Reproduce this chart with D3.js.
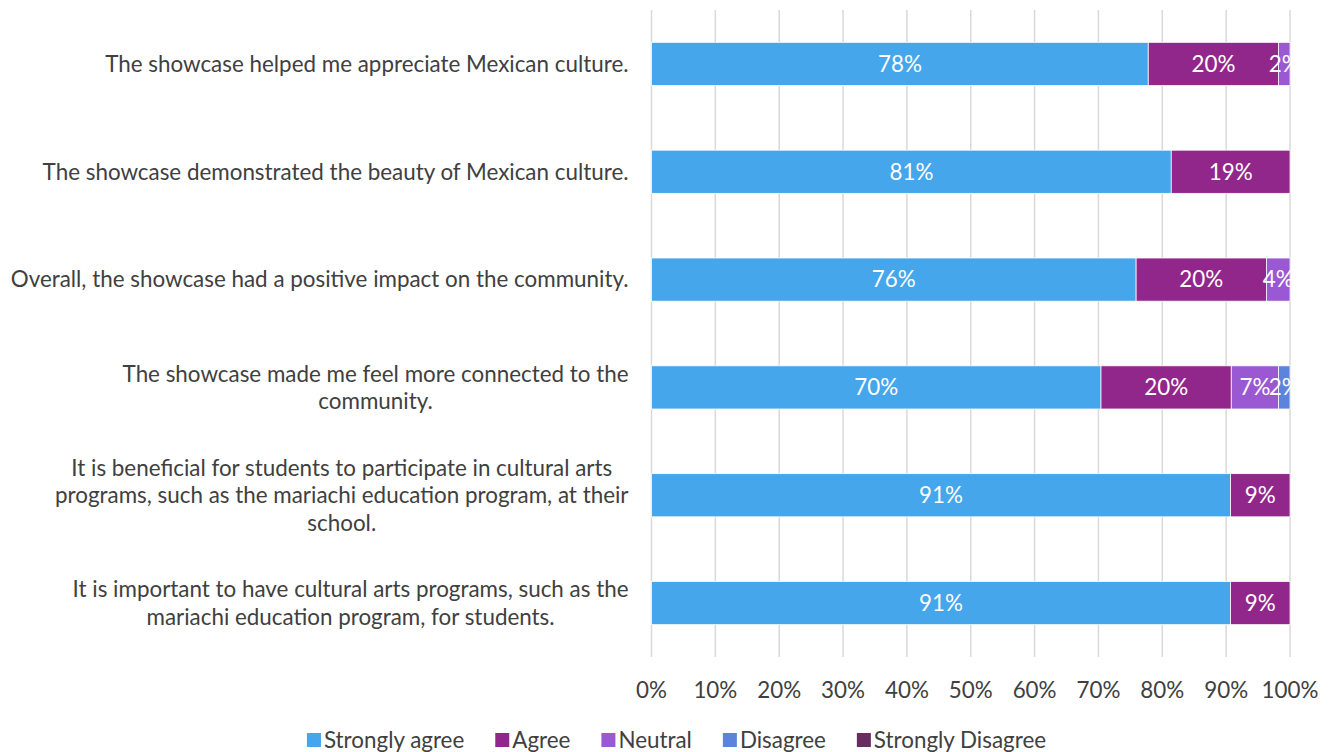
<!DOCTYPE html>
<html>
<head>
<meta charset="utf-8">
<script src="https://cdn.jsdelivr.net/npm/d3@7"></script>
<style>
  html, body { margin: 0; padding: 0; background: #fff; }
  svg { display: block; font-family: Lato, "Open Sans", sans-serif; }
</style>
</head>
<body>
<svg id="chart" width="1331" height="752"></svg>
<script>
// Survey statements (line breaks as they wrap on the axis)
const statements = [
  ["The showcase helped me appreciate Mexican culture."],
  ["The showcase demonstrated the beauty of Mexican culture."],
  ["Overall, the showcase had a positive impact on the community."],
  ["The showcase made me feel more connected to the", "community."],
  ["It is beneficial for students to participate in cultural arts", "programs, such as the mariachi education program, at their", "school."],
  ["It is important to have cultural arts programs, such as the", "mariachi education program, for students."]
];

// Response categories
const responses = ["Strongly agree", "Agree", "Neutral", "Disagree", "Strongly Disagree"];

// Share of respondents (%) per statement, one array per response
const stronglyAgree    = [77.8, 81.4, 75.9, 70.4, 90.7, 90.7];
const agree            = [20.4, 18.6, 20.4, 20.4, 9.3, 9.3];
const neutral          = [1.8, 0, 3.7, 7.4, 0, 0];
const disagree         = [0, 0, 0, 1.8, 0, 0];
const stronglyDisagree = [0, 0, 0, 0, 0, 0];

// Percent axis ticks
const ticks = [0, 10, 20, 30, 40, 50, 60, 70, 80, 90, 100];

const colors = ["#45a6eb", "#92278b", "#9b58d3", "#5b84da", "#682c60"];

const series = [stronglyAgree, agree, neutral, disagree, stronglyDisagree];
const rows = statements.map((s, i) => {
  const r = { key: i, lines: s };
  responses.forEach((k, j) => { r[k] = series[j][i]; });
  return r;
});

const svg = d3.select("#chart");
const margin = { left: 651.5, right: 41, top: 10, bottom: 95 };
const W = 1331, H = 752;

const x = d3.scaleLinear().domain([0, 100]).range([margin.left, W - margin.right]);
const y = d3.scaleBand().domain(rows.map(d => d.key))
  .range([margin.top, H - margin.bottom])
  .paddingInner(0.6).paddingOuter(0.3);

const textColor = "#404040";
const fontSize = 22.4;

// Vertical gridlines
svg.append("g")
  .selectAll("line").data(ticks).join("line")
  .attr("x1", d => x(d)).attr("x2", d => x(d))
  .attr("y1", margin.top).attr("y2", H - margin.bottom)
  .attr("stroke", "#d9d9d9").attr("stroke-width", 1.5);

// Stacked bars
const stacked = d3.stack().keys(responses)(rows);
const layers = svg.append("g").selectAll("g").data(stacked).join("g")
  .attr("fill", (d, i) => colors[i]);

layers.selectAll("rect").data(d => d.filter(s => s[1] - s[0] > 0)).join("rect")
  .attr("x", d => x(d[0]))
  .attr("y", d => y(d.data.key))
  .attr("width", d => x(d[1]) - x(d[0]))
  .attr("height", y.bandwidth())
  .attr("stroke", "#ffffff").attr("stroke-width", 0.75);

// Data labels
const fmt = v => d3.format(".0f")(v) + "%";
layers.selectAll("text").data(d => d.filter(s => s[1] - s[0] > 0).map(s => ({ s, v: s[1] - s[0] }))).join("text")
  .attr("x", d => x((d.s[0] + d.s[1]) / 2))
  .attr("y", d => y(d.s.data.key) + y.bandwidth() / 2)
  .attr("dy", "0.35em")
  .attr("text-anchor", "middle")
  .attr("fill", "#ffffff")
  .attr("font-size", fontSize)
  .text(d => fmt(d.v));

// Category labels: block right-aligned to the axis, lines centred within it
const lineH = 27.5;
const catG = svg.append("g");
rows.forEach(r => {
  const g = catG.append("g");
  const cy = y(r.key) + y.bandwidth() / 2;
  const n = r.lines.length;
  const texts = r.lines.map((ln, i) => g.append("text")
    .attr("y", cy + (i - (n - 1) / 2) * lineH)
    .attr("dy", "0.35em")
    .attr("font-size", fontSize)
    .attr("fill", textColor)
    .attr("text-anchor", "middle")
    .text(ln));
  const wMax = d3.max(texts, t => t.node().getComputedTextLength());
  const right = margin.left - 23;
  texts.forEach(t => t.attr("x", right - wMax / 2));
});

// X axis tick labels
svg.append("g").selectAll("text").data(ticks).join("text")
  .attr("x", d => x(d))
  .attr("y", 690)
  .attr("dy", "0.35em")
  .attr("text-anchor", "middle")
  .attr("font-size", fontSize)
  .attr("fill", textColor)
  .text(d => d + "%");

// Legend
const legend = svg.append("g");
const gap = 31;
let lx = 0;
responses.forEach((k, i) => {
  const g = legend.append("g");
  g.append("rect").attr("x", 0).attr("y", -7).attr("width", 14).attr("height", 14).attr("fill", colors[i]);
  const t = g.append("text").attr("x", 17).attr("dy", "0.35em")
    .attr("font-size", fontSize).attr("fill", textColor).text(k);
  const w = 17 + t.node().getComputedTextLength();
  g.attr("transform", `translate(${lx},0)`);
  lx += w + gap;
});
const totalW = lx - gap;
legend.attr("transform", `translate(${(W - totalW) / 2 + 11},740)`);
</script>
</body>
</html>
